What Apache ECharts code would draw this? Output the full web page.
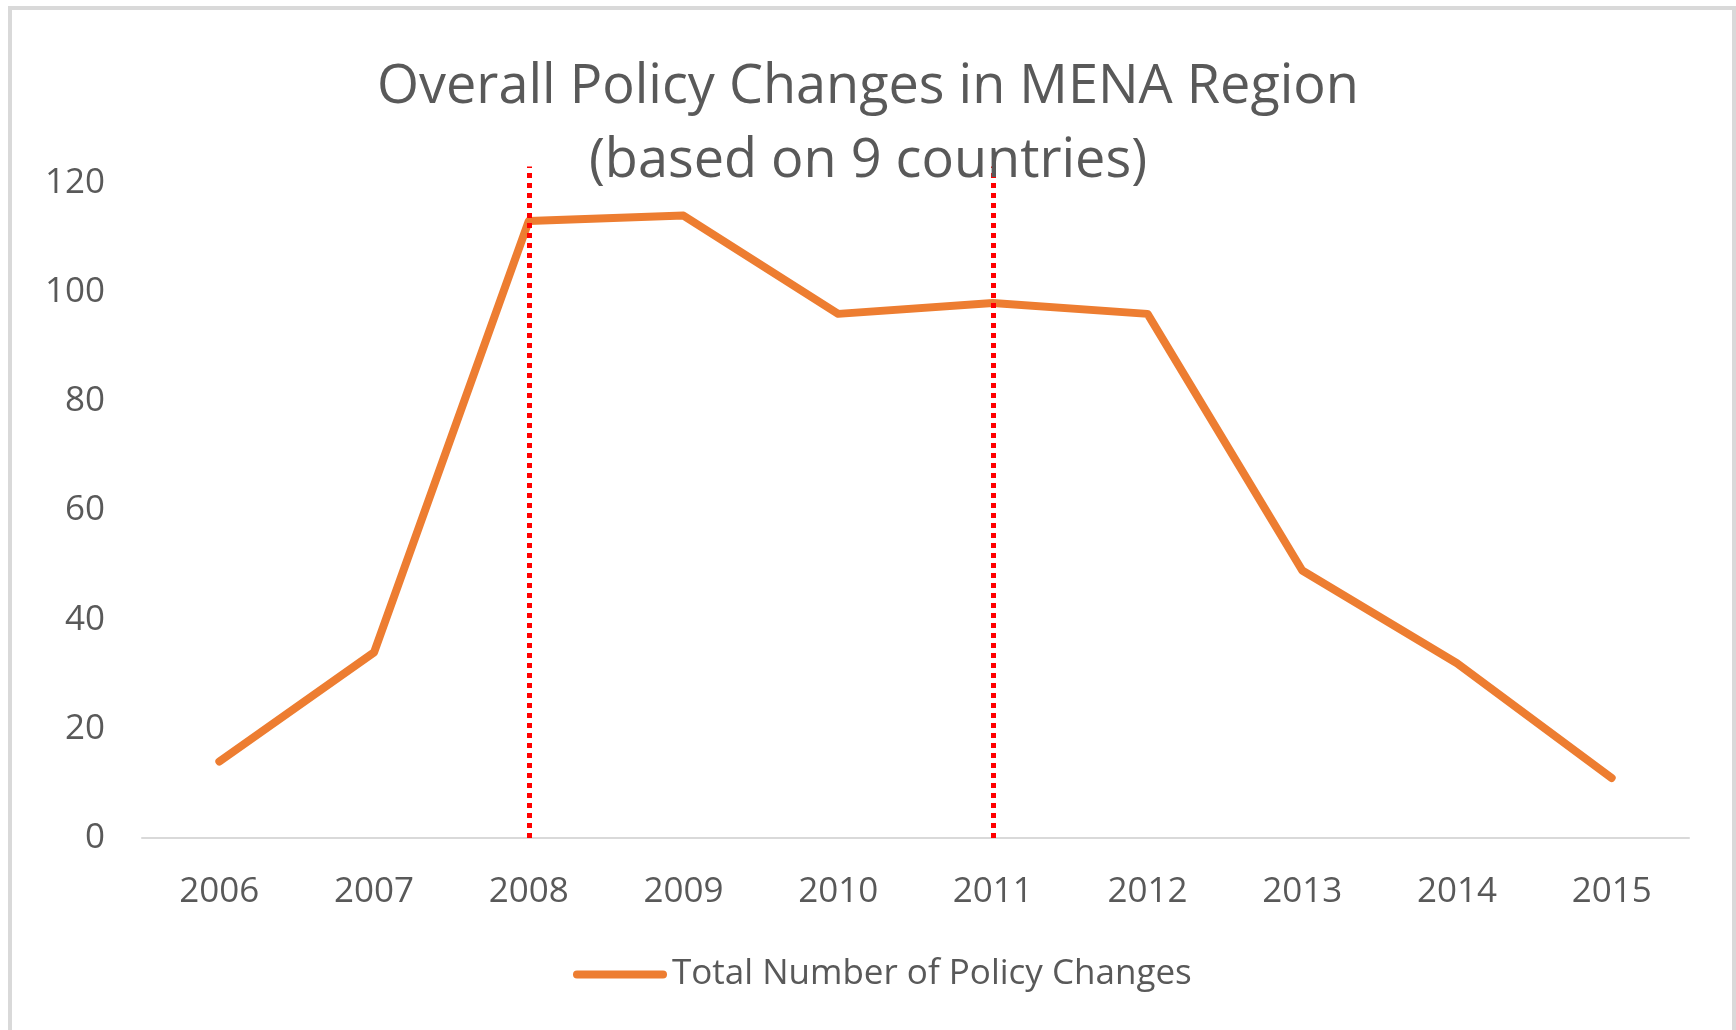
<!DOCTYPE html>
<html>
<head>
<meta charset="utf-8">
<script src="https://cdn.jsdelivr.net/npm/echarts@6/dist/echarts.min.js"></script>
<style>
  html, body { margin: 0; padding: 0; background: #fff; }
  #myChart { width: 1736px; height: 1030px; }
</style>
</head>
<body>
<div id="myChart"></div>
<script>
var years = ['2006', '2007', '2008', '2009', '2010', '2011', '2012', '2013', '2014', '2015'];
var policyChanges = [14, 34, 113, 114, 96, 98, 96, 49, 32, 11];
var markerYears = ['2008', '2011'];
var markerTop = 123;
var yTicks = [0, 20, 40, 60, 80, 100, 120];

var font = 'Open Sans';
var grey = '#595959';

var markLines = markerYears.map(function (y) {
    return [{ coord: [y, 0] }, { coord: [y, markerTop] }];
});

var option = {
    backgroundColor: '#fff',
    animation: false,
    title: {
        text: 'Overall Policy Changes in MENA Region\n(based on 9 countries)',
        left: 'center',
        top: 46,
        textStyle: {
            fontFamily: font,
            fontSize: 54,
            fontWeight: 'normal',
            color: grey,
            lineHeight: 74
        }
    },
    legend: {
        bottom: 33,
        left: 568,
        itemWidth: 94,
        itemHeight: 8,
        icon: 'path://M4,0 L90,0 A4,4 0 0 1 90,8 L4,8 A4,4 0 0 1 4,0 Z',
        itemStyle: { color: '#ed7d31' },
        textStyle: { fontFamily: font, fontSize: 35, color: grey },
        data: ['Total Number of Policy Changes']
    },
    grid: {
        left: 142,
        right: 47,
        top: 161,
        bottom: 192
    },
    xAxis: {
        type: 'category',
        data: years,
        boundaryGap: true,
        axisLine: { lineStyle: { color: '#d9d9d9', width: 2 } },
        axisTick: { show: false },
        axisLabel: { fontFamily: font, fontSize: 35, color: grey, margin: 37 }
    },
    yAxis: {
        type: 'value',
        min: yTicks[0],
        max: 124,
        interval: 20,
        axisLine: { show: false },
        axisTick: { show: false },
        splitLine: { show: false },
        axisLabel: {
            fontFamily: font, fontSize: 35, color: grey, margin: 37,
            showMaxLabel: false
        }
    },
    graphic: [{
        type: 'rect',
        shape: { x: 10, y: 8, width: 1724, height: 1040 },
        style: { fill: 'none', stroke: '#d9d9d9', lineWidth: 4 },
        silent: true
    }],
    series: [{
        name: 'Total Number of Policy Changes',
        type: 'line',
        data: policyChanges,
        symbol: 'none',
        lineStyle: { color: '#ed7d31', width: 8, cap: 'round', join: 'round' },
        itemStyle: { color: '#ed7d31' },
        markLine: {
            silent: true,
            symbol: 'none',
            label: { show: false },
            lineStyle: { color: '#ff0000', type: 'dotted', width: 5 },
            data: markLines
        }
    }]
};

var myChart = echarts.init(document.getElementById('myChart'));
myChart.setOption(option);
</script>
</body>
</html>
